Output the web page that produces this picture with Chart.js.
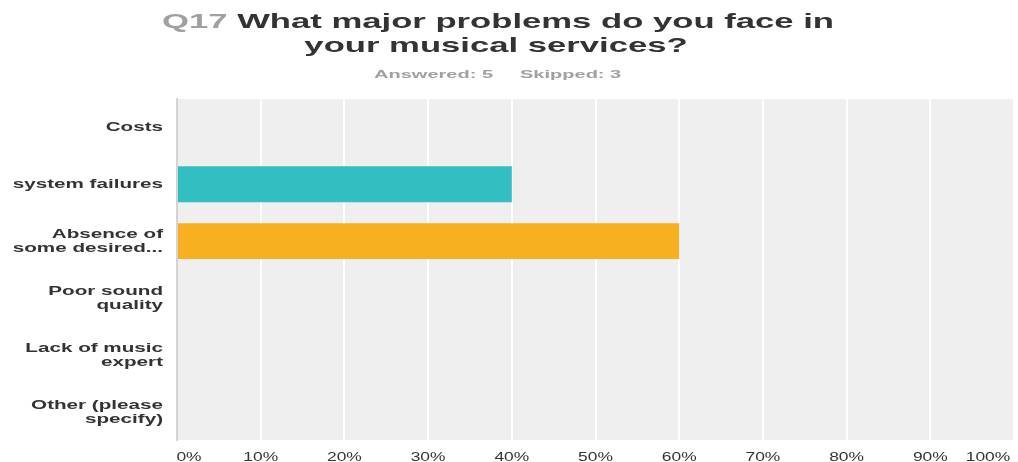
<!DOCTYPE html>
<html>
<head>
<meta charset="utf-8">
<script src="https://cdn.jsdelivr.net/npm/chart.js@4.4.1/dist/chart.umd.min.js"></script>
<style>
  html, body { margin: 0; padding: 0; background: #fff; }
  #wrap { width: 1018px; height: 462px; }
</style>
</head>
<body>
<div id="wrap"><canvas id="q17"></canvas></div>
<script>
const categories = [
  ["Costs"],
  ["system failures"],
  ["Absence of", "some desired..."],
  ["Poor sound", "quality"],
  ["Lack of music", "expert"],
  ["Other (please", "specify)"],
];
const responses = [0, 40, 60, 0, 0, 0];
const barColors = ["#33bec1", "#33bec1", "#f7b020", "#33bec1", "#33bec1", "#33bec1"];
const xTicks = [0, 10, 20, 30, 40, 50, 60, 70, 80, 90, 100];

const titleQ = "Q17";
const titleLines = ["What major problems do you face in", "your musical services?"];
const answered = "Answered: 5";
const skipped = "Skipped: 3";

// text in this chart is drawn wide, so everything goes through one helper
function wideText(ctx, str, x, y, font, color, align, sx) {
  ctx.save();
  ctx.font = font;
  ctx.fillStyle = color;
  ctx.textBaseline = "alphabetic";
  const w = ctx.measureText(str).width * sx;
  let left = x;
  if (align === "center") left = x - w / 2;
  if (align === "right") left = x - w;
  ctx.translate(left, y);
  ctx.scale(sx, 1);
  ctx.textAlign = "left";
  ctx.fillText(str, 0, 0);
  ctx.restore();
  return w;
}

const plotBg = {
  id: "plotBg",
  beforeDraw(chart) {
    const { ctx, chartArea: { left, top, width, height } } = chart;
    ctx.save();
    ctx.fillStyle = "#efefef";
    ctx.fillRect(left, top, width, height);
    ctx.restore();
  },
};

const labels = {
  id: "labels",
  afterDraw(chart) {
    const { ctx } = chart;
    const x = chart.scales.x;
    const y = chart.scales.y;

    // title
    const f1 = "bold 21px 'Liberation Sans', Arial, sans-serif";
    const sx = 1.65;
    ctx.save();
    ctx.font = f1;
    const wq = ctx.measureText(titleQ + " ").width * sx;
    const wl = ctx.measureText(titleLines[0]).width * sx;
    ctx.restore();
    const start = 498 - (wq + wl) / 2;
    wideText(ctx, titleQ, start, 28, f1, "#a0a0a0", "left", sx);
    wideText(ctx, titleLines[0], start + wq, 28, f1, "#333333", "left", sx);
    wideText(ctx, titleLines[1], 496, 52, f1, "#333333", "center", sx);

    // answered / skipped
    const f2 = "bold 11px 'Liberation Sans', Arial, sans-serif";
    wideText(ctx, answered, 374, 78, f2, "#a0a0a0", "left", 1.82);
    wideText(ctx, skipped, 520, 78, f2, "#a0a0a0", "left", 1.82);

    // category labels
    const f3 = "bold 12px 'Liberation Sans', Arial, sans-serif";
    categories.forEach((lines, i) => {
      const cy = y.getPixelForValue(i);
      const y0 = cy + 4 - (lines.length - 1) * 7;
      lines.forEach((s, j) => {
        wideText(ctx, s, 163, y0 + j * 14, f3, "#333333", "right", 1.72);
      });
    });

    // percent ticks
    const f4 = "12px 'Liberation Sans', Arial, sans-serif";
    xTicks.forEach((v, i) => {
      let px = x.getPixelForValue(v);
      if (i === 0) px += 12;
      if (i === xTicks.length - 1) px -= 26;
      wideText(ctx, v + "%", px, 461, f4, "#333333", "center", 1.45);
    });
  },
};

new Chart(document.getElementById("q17"), {
  type: "bar",
  data: {
    labels: categories,
    datasets: [{
      data: responses,
      backgroundColor: barColors,
      borderWidth: 0,
      barPercentage: 0.63,
      categoryPercentage: 1,
    }],
  },
  options: {
    indexAxis: "y",
    responsive: true,
    maintainAspectRatio: false,
    animation: false,
    events: [],
    layout: { padding: { left: 177, top: 99, right: 4, bottom: 22 } },
    plugins: { legend: { display: false }, tooltip: { enabled: false } },
    scales: {
      x: {
        min: 0,
        max: 100,
        ticks: { display: false, stepSize: 10 },
        grid: { color: "#ffffff", lineWidth: 2, drawTicks: false },
        border: { display: false },
      },
      y: {
        ticks: { display: false },
        grid: { display: false, drawTicks: false },
        border: { color: "#d4d4d4", width: 2 },
      },
    },
  },
  plugins: [plotBg, labels],
});
</script>
</body>
</html>
